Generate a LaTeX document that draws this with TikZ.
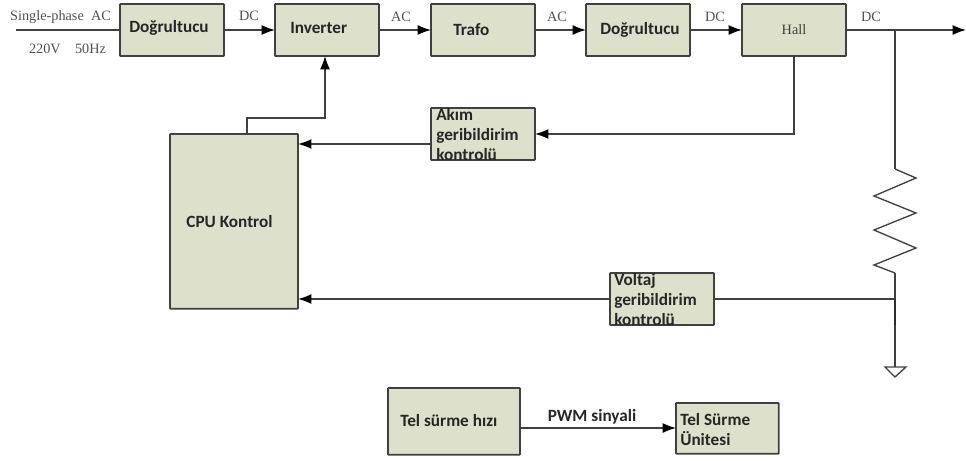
\documentclass[tikz,border=0pt]{standalone}
\usepackage{fontspec}
\setmainfont{Carlito}
\newfontfamily\serifl{Liberation Serif}
\usetikzlibrary{arrows.meta,calc}
\definecolor{boxfill}{HTML}{DDE1CB}
\definecolor{linec}{HTML}{404040}
\definecolor{labc}{HTML}{505050}
\tikzset{
  x=0.75pt,y=-0.75pt,
  blk/.style={draw=linec,line width=1.3pt,fill=boxfill,inner sep=0pt,outer sep=0pt,anchor=north west,rounded corners=0.4pt},
  wire/.style={draw=linec,line width=1.1pt},
  arr/.style={wire,-{Latex[length=10pt,width=7.5pt,color=black]}},
  boxtxt/.style={font=\fontsize{12.9}{15}\selectfont\bfseries,text=black!85,inner sep=0pt,align=left},
  sertxt/.style={font=\serifl\fontsize{10.7}{12}\selectfont,text=labc,inner sep=0pt},
  res/.style={draw=linec,line width=1pt,line join=miter},
}
\begin{document}
\begin{tikzpicture}
\useasboundingbox (0,0) rectangle (966,460);
% boxes
\node[blk,minimum width=78pt,minimum height=39pt] (d1) at (120,4) {};
\node[blk,minimum width=78pt,minimum height=39pt] (inv) at (275,4) {};
\node[blk,minimum width=78pt,minimum height=39pt] (tr) at (431,4) {};
\node[blk,minimum width=78pt,minimum height=39pt] (d2) at (586,4) {};
\node[blk,minimum width=78pt,minimum height=39pt] (hall) at (742,4) {};
\node[blk,minimum width=78pt,minimum height=39pt] (akim) at (431,108) {};
\node[blk,minimum width=96pt,minimum height=131pt] (cpu) at (170,134) {};
\node[blk,minimum width=78pt,minimum height=39pt] (volt) at (610,273) {};
\node[blk,minimum width=99pt,minimum height=50pt] (hiz) at (388,388) {};
\node[blk,minimum width=77pt,minimum height=38pt] (unit) at (676,403) {};
% free ends
\coordinate (in) at (16,30);
\coordinate (out) at (966,30);
\coordinate (j1) at (895,30);
\coordinate (r0) at (895,169);
\coordinate (r1) at (916,178);
\coordinate (r2) at (874,196);
\coordinate (r3) at (916,213);
\coordinate (r4) at (874,230);
\coordinate (r5) at (916,248);
\coordinate (r6) at (874,265);
\coordinate (r7) at (895,273);
\coordinate (j2) at (895,299);
\coordinate (j3) at (895,325);
\coordinate (gnd) at (895,367);
\coordinate (g1) at (885,367);
\coordinate (g2) at (906,367);
\coordinate (g3) at (895,377);
\coordinate (c1) at (247,134);
\coordinate (c2) at (247,118);
\coordinate (c3) at (325,118);
\coordinate (c4) at (325,56);
\coordinate (h1) at (794,56);
\coordinate (h2) at (794,134);
\coordinate (a1) at (431,144);
\coordinate (a2) at (298,144);
\coordinate (a3) at (535,134);
% connectors
\draw[wire] (in) -- (in -| d1.west);
\draw[arr] (d1.east) -- (inv.west);
\draw[arr] (inv.east) -- (tr.west);
\draw[arr] (tr.east) -- (d2.west);
\draw[arr] (d2.east) -- (hall.west);
\draw[arr] (hall.east) -- (out);
\draw[wire] (j1) -- (r0);
\draw[res] (r0) -- (r1) -- (r2) -- (r3) -- (r4) -- (r5) -- (r6) -- (r7);
\draw[wire] (r7) -- (gnd);
\draw[draw=linec!70!black,line width=1.5pt] (j2) -- (j3);
\draw[res] (g1) -- (g2) -- (g3) -- cycle;
\draw[wire,line width=1.3pt] (j2) -- (volt.east);
\draw[arr,line width=1.3pt] (volt.west) -- (volt.west -| cpu.east);
\draw[arr] (c1) -- (c2) -- (c3) -- (c4);
\draw[arr] (h1) -- (h2) -- (a3);
\draw[arr,line width=1.3pt] (a1) -- (a2);
\draw[arr] (hiz.east |- 0,428) -- (unit.west |- 0,428);
% box texts
\node[boxtxt,anchor=west] (t1) at (129,27.5) {Doğrultucu};
\node[boxtxt,anchor=west] (t2) at (290,27.5) {Inverter};
\node[boxtxt,anchor=west] (t3) at (453,29.5) {Trafo};
\node[boxtxt,anchor=west] (t4) at (600,29.5) {Doğrultucu};
\node[sertxt,anchor=center,text=black!75] (t5) at (794,30) {Hall};
\begin{scope}
  \clip (akim.north west) rectangle (akim.south east);
  \node[boxtxt,anchor=north west] (t6) at (436,108.5) {Akım\\geribildirim\\kontrolü};
\end{scope}
\node[boxtxt,anchor=center] (t7) at (229.5,222) {CPU Kontrol};
\begin{scope}
  \clip (volt.north west) rectangle (volt.south east);
  \node[boxtxt,anchor=north west] (t8) at (614,273.5) {Voltaj\\geribildirim\\kontrolü};
\end{scope}
\node[boxtxt,anchor=west] (t9) at (400,421) {Tel sürme hızı};
\node[boxtxt,anchor=north west] (t10) at (680,413) {Tel Sürme\\Ünitesi};
\node[boxtxt,anchor=center] (t11) at (592,417) {PWM sinyali};
% serif labels
\node[sertxt,anchor=center] (l1) at (60.5,17.5) {Single-phase\hspace{0.5em}AC};
\node[sertxt,anchor=center] (l2) at (67.5,48.5) {220V\hspace{1em}50Hz};
\node[sertxt] (l3) at (249,15.5) {DC};
\node[sertxt] (l4) at (401,17) {AC};
\node[sertxt] (l5) at (557,17) {AC};
\node[sertxt] (l6) at (715,17) {DC};
\node[sertxt] (l7) at (871,17) {DC};
\end{tikzpicture}
\end{document}
